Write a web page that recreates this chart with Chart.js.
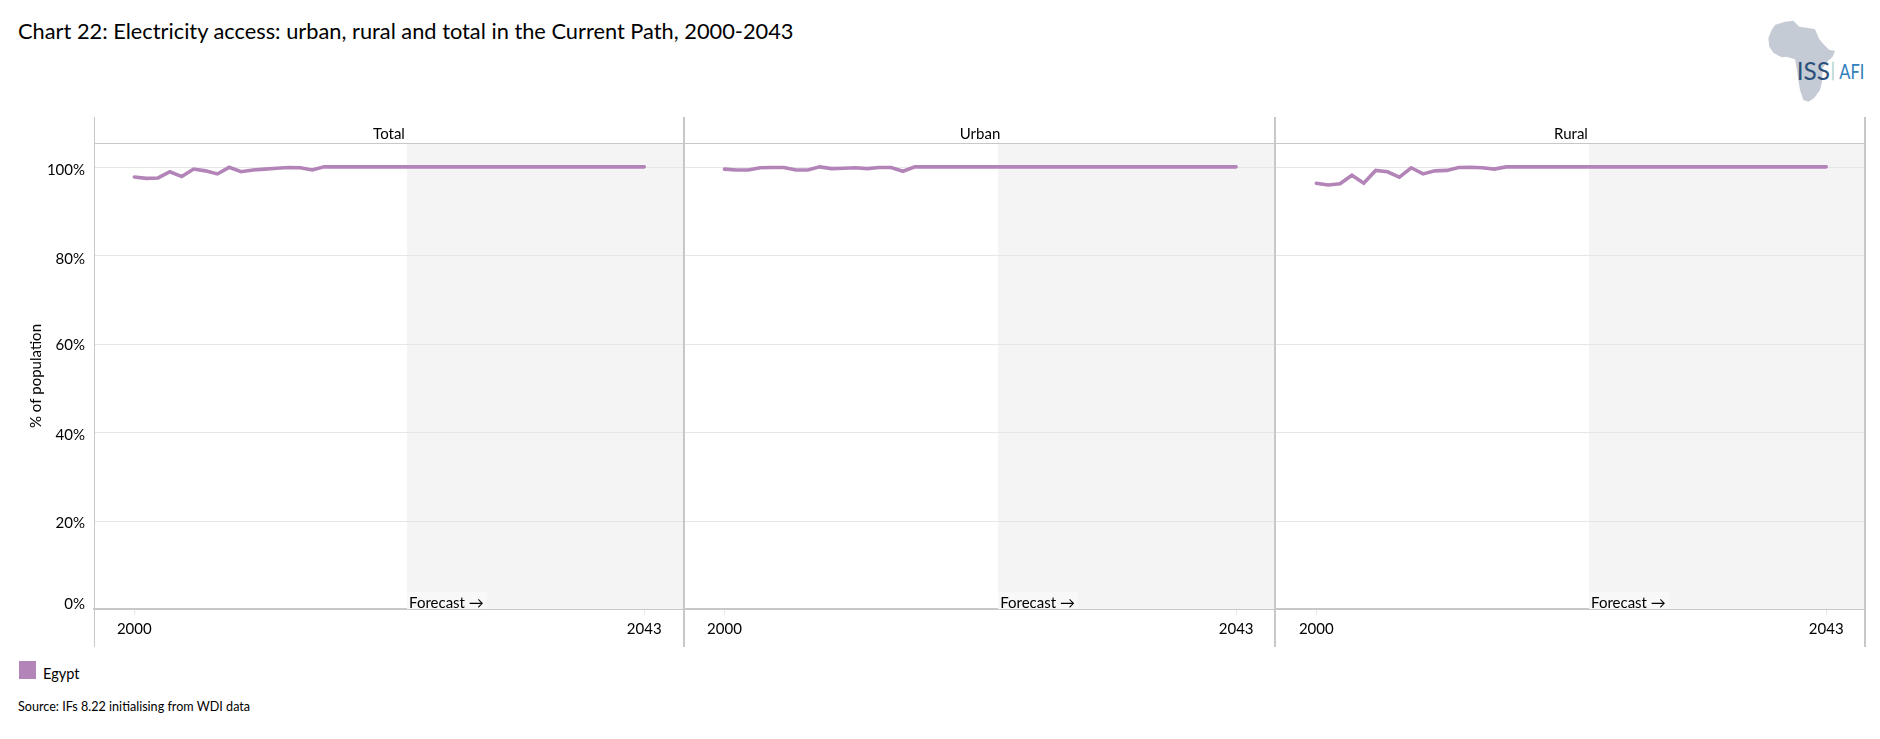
<!DOCTYPE html>
<html>
<head>
<meta charset="utf-8">
<title>Chart 22</title>
<script src="https://cdn.jsdelivr.net/npm/chart.js@4/dist/chart.umd.min.js"></script>
<style>
html,body{margin:0;padding:0;background:#fff;width:1880px;height:739px;overflow:hidden;font-family:Lato,"Open Sans",sans-serif;color:#000}
canvas{position:absolute;top:117px}
.t{position:absolute;white-space:nowrap}
#title{left:18px;top:17px;font-size:21.8px;line-height:28px}
#swatch{position:absolute;left:19px;top:661px;width:17px;height:18px;background:#b384b8}
#legend{left:43px;top:665px;font-size:14.5px;line-height:18px}
#source{left:18px;top:699px;font-size:12.6px;line-height:16px}
#logo{position:absolute;left:1740px;top:0;width:140px;height:120px}
</style>
</head>
<body>
<div class="t" id="title">Chart 22: Electricity access: urban, rural and total in the Current Path, 2000-2043</div>
<svg id="logo" viewBox="0 0 420 360">
<polygon fill="#c5cbd4" points="105,75 135,65 160,62 178,80 205,84 225,88 238,118 250,132 268,150 285,152 278,170 262,185 247,205 247,240 240,270 222,295 205,305 190,300 180,270 175,240 170,205 165,178 140,170 125,172 100,158 88,140 85,115 95,90"/>
<text x="170" y="240" font-family="Lato" font-size="76" fill="#2b5079" textLength="100" lengthAdjust="spacingAndGlyphs">ISS</text>
<rect x="277" y="185" width="4" height="56" fill="#a9cfd0"/>
<text x="298" y="238" font-family="Lato" font-size="62" fill="#2f80bb" textLength="75" lengthAdjust="spacingAndGlyphs">AFI</text>
</svg>
<canvas id="c1" width="684" height="530" style="left:0"></canvas>
<canvas id="c2" width="592" height="530" style="left:684px"></canvas>
<canvas id="c3" width="590" height="530" style="left:1276px"></canvas>
<div id="swatch"></div>
<div class="t" id="legend">Egypt</div>
<div class="t" id="source">Source: IFs 8.22 initialising from WDI data</div>
<script>
const years = [2000,2001,2002,2003,2004,2005,2006,2007,2008,2009,2010,2011,2012,2013,2014,2015,2016,2017,2018,2019,2020,2021,2022,2023,2024,2025,2026,2027,2028,2029,2030,2031,2032,2033,2034,2035,2036,2037,2038,2039,2040,2041,2042,2043];
const totalValues = [97.7,97.4,97.5,98.9,97.8,99.5,99.1,98.4,99.9,98.9,99.3,99.5,99.7,99.85,99.8,99.3,100,100,100,100,100,100,100,100,100,100,100,100,100,100,100,100,100,100,100,100,100,100,100,100,100,100,100,100];
const urbanValues = [99.5,99.3,99.3,99.8,99.85,99.85,99.3,99.3,100,99.6,99.7,99.8,99.6,99.85,99.85,99.0,100,100,100,100,100,100,100,100,100,100,100,100,100,100,100,100,100,100,100,100,100,100,100,100,100,100,100,100];
const ruralValues = [96.3,95.9,96.2,98.1,96.3,99.2,98.9,97.7,99.8,98.4,99.1,99.2,99.85,99.9,99.8,99.5,100,100,100,100,100,100,100,100,100,100,100,100,100,100,100,100,100,100,100,100,100,100,100,100,100,100,100,100];
const panelNames = ["Total","Urban","Rural"];
const seriesName = "Egypt";
const xTickYears = [2000,2043];
const yTickValues = [0,20,40,60,80,100];
const yTickNudge = [-5,3,3,1,4,3];
const forecastStart = 2023;

const FONT = 'Lato, "Open Sans", sans-serif';
const LINE = '#c8c8c8';

function makePanel(id, name, values, index){
  const isFirst = index === 0;
  const decor = {
    id:'decor',
    beforeDatasetsDraw(chart){
      const {ctx, chartArea:a, scales:{x,y}} = chart;
      const fx = x.getPixelForValue(forecastStart);
      ctx.save();
      ctx.fillStyle = '#f4f4f4';
      ctx.fillRect(fx, a.top, a.right-fx, a.bottom-a.top);
      for (const v of yTickValues){
        const py = Math.round(y.getPixelForValue(v))+0.5;
        if (v===0) continue;
        ctx.strokeStyle = '#e6e6e6'; ctx.lineWidth = 1;
        ctx.beginPath(); ctx.moveTo(a.left,py); ctx.lineTo(a.right,py); ctx.stroke();
      }
      ctx.fillStyle = '#f8f8f8';
      ctx.fillRect(fx, a.bottom-17, 80, 17);
      ctx.fillStyle = '#000';
      ctx.font = '15px '+FONT;
      ctx.textAlign = 'left'; ctx.textBaseline = 'middle';
      ctx.fillText('Forecast \u2192', fx+2, a.bottom-6);
      ctx.restore();
    },
    afterDraw(chart){
      const {ctx, chartArea:a, scales:{y}, height} = chart;
      ctx.save();
      ctx.strokeStyle = LINE;
      ctx.lineWidth = 1;
      const top = Math.round(a.top)+0.5;
      ctx.beginPath(); ctx.moveTo(a.left, top); ctx.lineTo(a.right, top); ctx.stroke();
      const vline = (px,w)=>{ ctx.lineWidth = w; ctx.beginPath(); ctx.moveTo(px,0); ctx.lineTo(px,height); ctx.stroke(); };
      if (index === 0){ vline(a.left+0.5,1); vline(a.right-0.5,1); }
      if (index === 1){ vline(a.left+0.5,1); vline(a.right-1,2); }
      if (index === 2){ vline(a.right-1,2); }
      if (isFirst){
        ctx.fillStyle = '#000';
        ctx.font = '15px '+FONT;
        ctx.textAlign = 'right'; ctx.textBaseline = 'middle';
        yTickValues.forEach((v,i)=>{
          ctx.fillText(v+'%', 85, y.getPixelForValue(v)+yTickNudge[i]);
        });
      }
      ctx.restore();
    }
  };
  return new Chart(document.getElementById(id), {
    type:'line',
    data:{ datasets:[{
      label:seriesName,
      data:years.map((yr,i)=>({x:yr,y:values[i]})),
      borderColor:'#b384b8', borderWidth:3.6, pointRadius:0, tension:0,
      borderCapStyle:'round', borderJoinStyle:'miter', fill:false
    }]},
    plugins:[decor],
    options:{
      responsive:false, animation:false, devicePixelRatio:1,
      layout:{padding:0},
      plugins:{
        legend:{display:false}, tooltip:{enabled:false},
        title:{display:true, text:name, fullSize:false, color:'#000',
          font:{family:FONT,size:15,weight:'normal',lineHeight:1.2},
          padding:{top:8,bottom:0}}
      },
      scales:{
        x:{
          type:'linear', min:1996.6, max:2046.35,
          afterBuildTicks(s){ s.ticks = xTickYears.map(v=>({value:v})); },
          afterFit(s){ s.height = 38; },
          border:{color:LINE, width:2},
          grid:{drawOnChartArea:false, drawTicks:true, tickLength:6, color:'#e8e8e8'},
          ticks:{color:'#000', font:{family:FONT,size:15}, padding:5, maxRotation:0, autoSkip:false,
            callback:v=>String(v)}
        },
        y:{
          min:0, max:105.4,
          afterBuildTicks(s){ s.ticks = yTickValues.map(v=>({value:v})); },
          afterFit(s){ s.width = isFirst ? 94 : 0; },
          border:{display:false},
          grid:{display:false},
          ticks:{display:false},
          title:{display:isFirst, text:'% of population', color:'#000',
            font:{family:FONT,size:15}, padding:{top:27,bottom:0}}
        }
      }
    }
  });
}
makePanel('c1', panelNames[0], totalValues, 0);
makePanel('c2', panelNames[1], urbanValues, 1);
makePanel('c3', panelNames[2], ruralValues, 2);
</script>
</body>
</html>
